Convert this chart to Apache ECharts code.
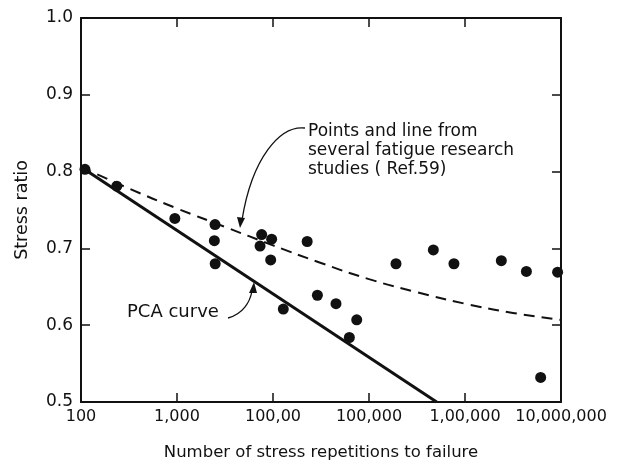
<!DOCTYPE html>
<html>
<head>
<meta charset="utf-8">
<script src="https://cdn.jsdelivr.net/npm/echarts@6/dist/echarts.min.js"></script>
<style>
  html, body { margin: 0; padding: 0; background: #fff; }
  #chart { width: 634px; height: 466px; }
</style>
</head>
<body>
<div id="chart"></div>
<script>
// tick labels as printed (typos kept)
var xTickLabels = ['100', '1,000', '100,00', '100,000', '1,00,000', '10,000,000'];
var yTickLabels = ['0.5', '0.6', '0.7', '0.8', '0.9', '1.0'];

// test points: [repetitions, stress ratio]
var testPoints = [
    [110, 0.803], [236, 0.781], [950, 0.739], [2490, 0.731], [2450, 0.710],
    [2500, 0.680], [7620, 0.718], [7330, 0.703], [9680, 0.712], [9460, 0.685],
    [22700, 0.709], [29000, 0.639], [45300, 0.628], [74500, 0.607], [62400, 0.584],
    [12800, 0.621], [191000, 0.680], [468000, 0.698], [767000, 0.680],
    [2390000, 0.684], [4360000, 0.670], [9220000, 0.669], [6140000, 0.532]
];

// dashed line (Ref.59)
var refCurve = [
    [100, 0.806], [316, 0.778], [1000, 0.752], [3160, 0.728], [10000, 0.704],
    [31600, 0.681], [100000, 0.660], [316000, 0.643], [1000000, 0.628],
    [3160000, 0.616], [10000000, 0.607]
];

// PCA curve (straight on log scale)
var pcaCurve = [[100, 0.806], [507000, 0.5]];

var chart = echarts.init(document.getElementById('chart'));
var ink = '#111';
var font = 'DejaVu Sans';

var option = {
    backgroundColor: '#fff',
    animation: false,
    grid: { left: 81, right: 73, top: 18, bottom: 64 },
    xAxis: [
        {
            type: 'log', logBase: 10, min: 100, max: 10000000,
            position: 'bottom',
            name: 'Number of stress repetitions to failure',
            nameLocation: 'middle', nameGap: 42,
            nameTextStyle: { color: ink, fontFamily: font, fontSize: 16.5 },
            axisLine: { lineStyle: { color: ink, width: 2 } },
            axisTick: { inside: true, length: 9, lineStyle: { color: ink, width: 1.5 } },
            minorTick: { show: false },
            splitLine: { show: false },
            axisLabel: {
                color: ink, fontFamily: font, fontSize: 16, margin: 7,
                formatter: function (v) {
                    var i = Math.round(Math.log10(v)) - 2;
                    return xTickLabels[i] || '';
                }
            }
        },
        {
            type: 'log', logBase: 10, min: 100, max: 10000000,
            position: 'top',
            axisLine: { lineStyle: { color: ink, width: 2 } },
            axisTick: { inside: true, length: 9, lineStyle: { color: ink, width: 1.5 } },
            splitLine: { show: false },
            axisLabel: { show: false }
        }
    ],
    yAxis: [
        {
            type: 'value', min: 0.5, max: 1.0, interval: 0.1,
            position: 'left',
            name: 'Stress ratio',
            nameLocation: 'middle', nameGap: 50,
            nameTextStyle: { color: ink, fontFamily: font, fontSize: 17.5 },
            axisLine: { show: true, lineStyle: { color: ink, width: 2 } },
            axisTick: { show: true, inside: true, length: 9, lineStyle: { color: ink, width: 1.5 } },
            splitLine: { show: false },
            axisLabel: {
                color: ink, fontFamily: font, fontSize: 17, margin: 8,
                formatter: function (v) {
                    var i = Math.round((v - 0.5) * 10);
                    return yTickLabels[i] || '';
                }
            }
        },
        {
            type: 'value', min: 0.5, max: 1.0, interval: 0.1,
            position: 'right',
            axisLine: { show: true, lineStyle: { color: ink, width: 2 } },
            axisTick: { show: true, inside: true, length: 9, lineStyle: { color: ink, width: 1.5 } },
            splitLine: { show: false },
            axisLabel: { show: false }
        }
    ],
    series: [
        {
            name: 'Ref.59', type: 'line', smooth: true, symbol: 'none',
            data: refCurve,
            lineStyle: { color: ink, width: 2, type: [11, 7] },
            z: 2
        },
        {
            name: 'PCA', type: 'line', symbol: 'none',
            data: pcaCurve,
            lineStyle: { color: ink, width: 3 },
            z: 2
        },
        {
            name: 'tests', type: 'scatter', symbol: 'circle', symbolSize: 11,
            data: testPoints,
            itemStyle: { color: ink, opacity: 1 },
            z: 3
        }
    ],
    graphic: [
        {
            type: 'text', left: 308, top: 122,
            style: {
                text: 'Points and line from\nseveral fatigue research\nstudies ( Ref.59)',
                font: '17px "' + font + '"', fill: ink, lineHeight: 19
            }
        },
        {
            type: 'bezierCurve',
            shape: { x1: 305, y1: 128, cpx1: 280, cpy1: 125, cpx2: 252, cpy2: 158, x2: 242, y2: 220 },
            style: { stroke: ink, lineWidth: 1.3, fill: null }
        },
        {
            type: 'polygon',
            shape: { points: [[240, 228], [237, 217], [245, 218]] },
            style: { fill: ink }
        },
        {
            type: 'text', left: 127, top: 303,
            style: { text: 'PCA curve', font: '18px "' + font + '"', fill: ink }
        },
        {
            type: 'bezierCurve',
            shape: { x1: 228, y1: 318, cpx1: 243, cpy1: 314, cpx2: 250, cpy2: 302, x2: 252, y2: 291 },
            style: { stroke: ink, lineWidth: 1.3, fill: null }
        },
        {
            type: 'polygon',
            shape: { points: [[254, 282], [249, 293], [257, 293]] },
            style: { fill: ink }
        }
    ]
};

chart.setOption(option);
</script>
</body>
</html>
